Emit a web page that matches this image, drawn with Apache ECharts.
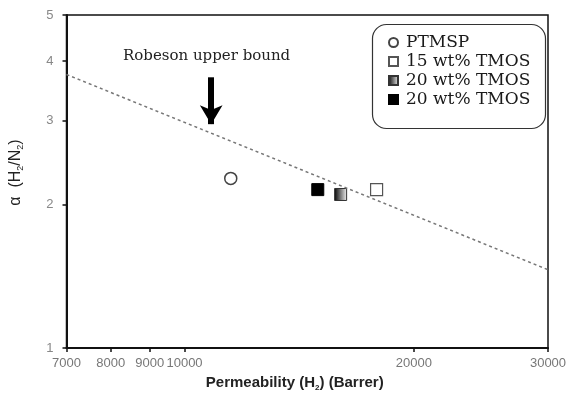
<!DOCTYPE html>
<html>
<head>
<meta charset="utf-8">
<script src="https://cdn.jsdelivr.net/npm/echarts@6/dist/echarts.min.js"></script>
<style>
  html, body { margin: 0; padding: 0; background: #fff; }
  #chart { width: 570px; height: 397px; }
</style>
</head>
<body>
<div id="chart"></div>
<script>
// tick labels
const xTicks = [7000, 8000, 9000, 10000, 20000, 30000]
const yTicks = [1, 2, 3, 4, 5]

// membrane points [permeability H2, selectivity H2/N2]
const ptmsp = [[11500, 2.27]]
const tmos15 = [[17870, 2.15]]
const tmos20a = [[16030, 2.10]]
const tmos20b = [[14960, 2.15]]

// Robeson upper bound (two ends of the dotted line)
const robeson = [[7000, 3.75], [30000, 1.46]]
// arrow pointing at the bound
const arrowFrom = [10840, 3.70]
const arrowTo = [10840, 2.95]

const serif = 'DejaVu Serif'
const sans = 'Liberation Sans'

const myChart = echarts.init(document.getElementById('chart'))
myChart.setOption({
  animation: false,
  grid: {
    left: 65,
    right: 22,
    top: 15,
    bottom: 44,
    show: true,
    borderColor: '#111',
    borderWidth: 1.5
  },
  legend: {
    orient: 'vertical',
    left: 388,
    top: 33,
    padding: 0,
    itemWidth: 9,
    itemHeight: 9,
    itemGap: 0,
    data: ['PTMSP', '15 wt% TMOS', '20 wt% TMOS', '20 wt% TMOS '],
    textStyle: {
      fontFamily: serif,
      fontSize: 17,
      lineHeight: 19,
      color: '#1a1a1a',
      padding: [0, 0, 0, 3]
    }
  },
  xAxis: {
    type: 'log',
    min: 7000,
    max: 30000,
    name: 'Permeability (H{sub|2}) (Barrer)',
    nameLocation: 'middle',
    nameGap: 26,
    nameTextStyle: {
      fontFamily: sans,
      fontSize: 15,
      fontWeight: 'bold',
      color: '#222',
      padding: [0, 25, 0, 0],
      rich: {
        sub: { fontSize: 8, fontWeight: 'bold', color: '#222', padding: [10, 0, 0, 0] }
      }
    },
    axisLine: { lineStyle: { color: '#111', width: 2 } },
    axisTick: { length: 4, lineStyle: { color: '#111', width: 1.5 }, customValues: xTicks },
    axisLabel: {
      customValues: xTicks,
      fontFamily: sans,
      fontSize: 13,
      color: '#777',
      margin: 9,
      formatter: v => String(Math.round(v))
    },
    splitLine: { show: false },
    minorTick: { show: false }
  },
  yAxis: {
    type: 'log',
    min: 1,
    max: 5,
    name: 'α  (H{sub|2}/N{sub|2})',
    nameLocation: 'middle',
    nameGap: 41,
    nameTextStyle: {
      fontFamily: sans,
      fontSize: 16,
      color: '#222',
      padding: [0, 0, 0, 18],
      rich: {
        sub: { fontSize: 9, color: '#222', padding: [10, 0, 0, 0] }
      }
    },
    axisLine: { lineStyle: { color: '#111', width: 2 } },
    axisTick: { length: 4, lineStyle: { color: '#111', width: 1.5 }, customValues: yTicks },
    axisLabel: {
      customValues: yTicks,
      fontFamily: sans,
      fontSize: 13,
      color: '#888',
      margin: 13
    },
    splitLine: { show: false },
    minorTick: { show: false }
  },
  graphic: [
    {
      type: 'rect',
      left: 370,
      top: 22,
      shape: { width: 173, height: 104, r: 14 },
      style: { fill: 'none', stroke: '#333', lineWidth: 1.2 },
      z: 10
    },
    {
      type: 'text',
      left: 123,
      top: 49,
      style: {
        text: 'Robeson upper bound',
        fontFamily: serif,
        fontSize: 15,
        fill: '#222'
      },
      z: 10
    }
  ],
  series: [
    {
      name: 'Robeson',
      type: 'line',
      data: robeson,
      symbol: 'none',
      lineStyle: { color: '#777', width: 1.5, type: [3, 3] },
      markLine: {
        silent: true,
        symbol: ['none', 'arrow'],
        symbolSize: [17, 19],
        label: { show: false },
        lineStyle: { color: '#000', width: 6, type: 'solid' },
        data: [[{ coord: arrowFrom }, { coord: arrowTo }]]
      }
    },
    {
      name: 'PTMSP',
      type: 'scatter',
      data: ptmsp,
      symbol: 'circle',
      symbolSize: 12,
      itemStyle: { color: '#fff', borderColor: '#444', borderWidth: 1.5, opacity: 1 }
    },
    {
      name: '15 wt% TMOS',
      type: 'scatter',
      data: tmos15,
      symbol: 'rect',
      symbolSize: 12,
      itemStyle: { color: '#fff', borderColor: '#555', borderWidth: 1.2, opacity: 1 }
    },
    {
      name: '20 wt% TMOS',
      type: 'scatter',
      data: tmos20a,
      symbol: 'rect',
      symbolSize: 12,
      itemStyle: {
        color: new echarts.graphic.LinearGradient(0, 0, 1, 0, [
          { offset: 0, color: '#000' },
          { offset: 1, color: '#f4f4f4' }
        ]),
        borderColor: '#333',
        borderWidth: 1,
        opacity: 1
      }
    },
    {
      name: '20 wt% TMOS ',
      type: 'scatter',
      data: tmos20b,
      symbol: 'rect',
      symbolSize: 12,
      itemStyle: { color: '#000', borderColor: '#000', borderWidth: 1, opacity: 1 }
    }
  ]
})
</script>
</body>
</html>
